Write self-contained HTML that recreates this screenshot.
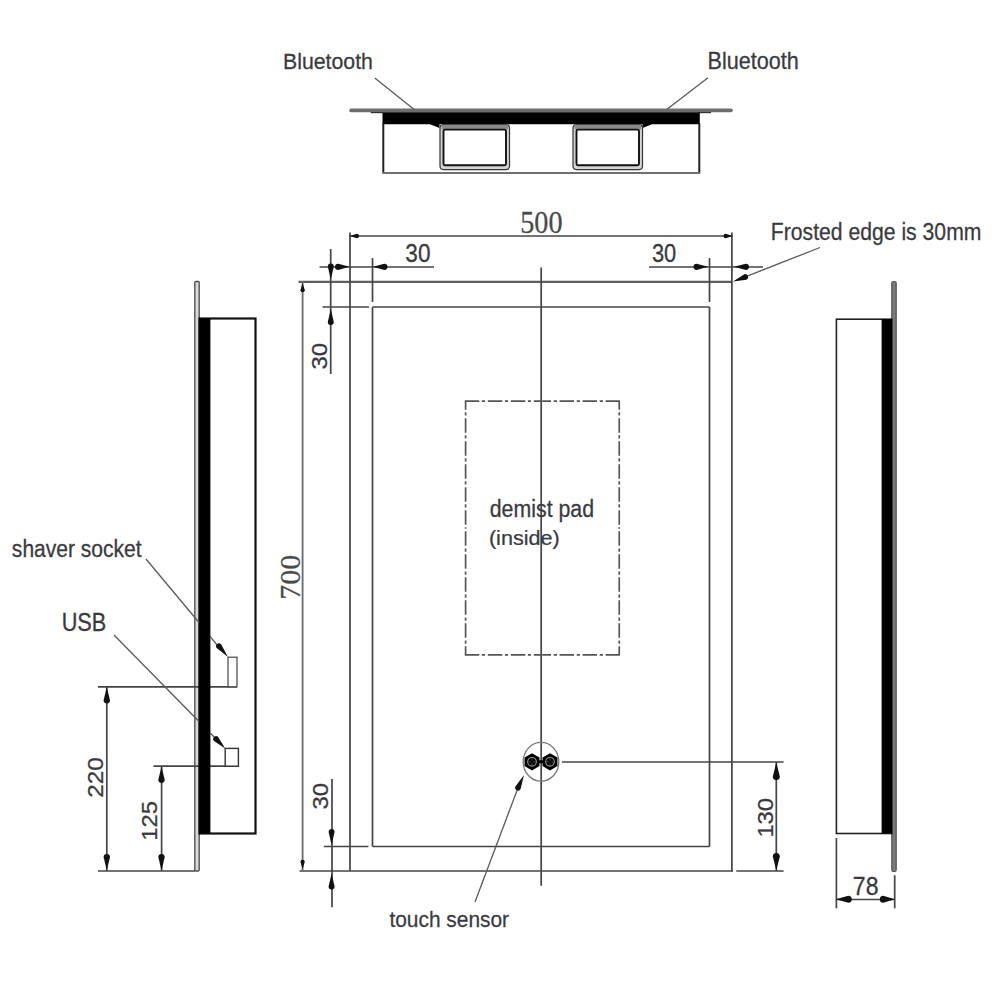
<!DOCTYPE html>
<html><head><meta charset="utf-8"><style>
html,body{margin:0;padding:0;background:#fff;}
svg{display:block;}
</style></head><body>
<svg width="1000" height="1000" viewBox="0 0 1000 1000">
<rect width="1000" height="1000" fill="#fff"/>
<line x1="351" y1="110.4" x2="731" y2="110.4" stroke="#6e6e6e" stroke-width="3.6" stroke-linecap="round"/>
<line x1="370.8" y1="112.6" x2="383" y2="112.6" stroke="#333" stroke-width="1.2" />
<line x1="699" y1="112.6" x2="711" y2="112.6" stroke="#333" stroke-width="1.2" />
<polygon points="382.50,112.20 699.80,112.20 699.80,124.20 652.00,124.20 642.50,128.00 642.50,124.20 439.50,124.20 439.50,128.00 430.00,124.20 382.50,124.20" fill="#000" stroke="none" stroke-width="0"/>
<line x1="383.3" y1="123" x2="383.3" y2="173" stroke="#222" stroke-width="2" />
<line x1="699.3" y1="123" x2="699.3" y2="173" stroke="#222" stroke-width="2" />
<line x1="382.5" y1="173" x2="700.2" y2="173" stroke="#707070" stroke-width="2.2" />
<rect x="440" y="124.6" width="69.5" height="45" rx="3.5" fill="#d4d4d4" stroke="#333" stroke-width="1.2"/>
<rect x="441.5" y="124.8" width="66.5" height="4.6" fill="#8a8a8a" stroke="none" stroke-width="0" />
<rect x="443.5" y="129.6" width="62.5" height="35.6" rx="1.5" fill="#fff" stroke="#111" stroke-width="1.9"/>
<rect x="573" y="124.6" width="69.5" height="45" rx="3.5" fill="#d4d4d4" stroke="#333" stroke-width="1.2"/>
<rect x="574.5" y="124.8" width="66.5" height="4.6" fill="#8a8a8a" stroke="none" stroke-width="0" />
<rect x="576.5" y="129.6" width="62.5" height="35.6" rx="1.5" fill="#fff" stroke="#111" stroke-width="1.9"/>
<line x1="374.8" y1="78" x2="414.8" y2="110" stroke="#5a5a5a" stroke-width="1.3" />
<line x1="708" y1="77.8" x2="667" y2="109.3" stroke="#5a5a5a" stroke-width="1.3" />
<line x1="298.5" y1="281.9" x2="732" y2="281.9" stroke="#5e5e5e" stroke-width="2.3" />
<line x1="299.5" y1="871" x2="733" y2="871" stroke="#444" stroke-width="1.7" />
<line x1="350" y1="232.5" x2="350" y2="871" stroke="#444" stroke-width="1.7" />
<line x1="731.9" y1="232.5" x2="731.9" y2="871.3" stroke="#444" stroke-width="1.7" />
<line x1="322.5" y1="307" x2="369" y2="307" stroke="#444" stroke-width="1.7" />
<line x1="372.5" y1="307" x2="709.5" y2="307" stroke="#444" stroke-width="1.7" />
<line x1="372.5" y1="307" x2="372.5" y2="846.5" stroke="#444" stroke-width="1.7" />
<line x1="709.5" y1="307" x2="709.5" y2="846.5" stroke="#444" stroke-width="1.7" />
<line x1="323.8" y1="846.5" x2="368.4" y2="846.5" stroke="#444" stroke-width="1.7" />
<line x1="372.5" y1="846.5" x2="709.5" y2="846.5" stroke="#444" stroke-width="1.7" />
<line x1="372.5" y1="258" x2="372.5" y2="302" stroke="#444" stroke-width="1.7" />
<line x1="709.5" y1="258" x2="709.5" y2="302" stroke="#444" stroke-width="1.7" />
<line x1="541.2" y1="267.5" x2="541.2" y2="885.7" stroke="#444" stroke-width="1.7" />
<line x1="349.5" y1="236" x2="732.5" y2="236" stroke="#444" stroke-width="1.7" />
<path d="M350.00,236.00 L356.81,233.81 A2.19,2.19 0 0 1 356.81,238.19 Z" fill="#111"/>
<path d="M732.50,236.00 L725.68,238.19 A2.19,2.19 0 0 1 725.68,233.81 Z" fill="#111"/>
<line x1="319.5" y1="267" x2="434" y2="267" stroke="#444" stroke-width="1.7" />
<path d="M349.50,266.80 L338.16,269.96 A3.16,3.16 0 0 1 338.16,263.64 Z" fill="#111"/>
<path d="M373.00,266.80 L384.34,263.64 A3.16,3.16 0 0 1 384.34,269.96 Z" fill="#111"/>
<line x1="649" y1="267" x2="763" y2="267" stroke="#444" stroke-width="1.7" />
<path d="M708.00,266.80 L696.66,269.96 A3.16,3.16 0 0 1 696.66,263.64 Z" fill="#111"/>
<path d="M734.00,266.80 L745.84,263.64 A3.16,3.16 0 0 1 745.84,269.96 Z" fill="#111"/>
<line x1="820" y1="247.5" x2="736" y2="280.5" stroke="#5a5a5a" stroke-width="1.3" />
<path d="M733.00,281.50 L744.33,274.28 A2.88,2.88 0 0 1 746.31,279.68 Z" fill="#111"/>
<line x1="302.6" y1="281" x2="302.6" y2="871" stroke="#6a6a6a" stroke-width="1.8" />
<path d="M302.60,283.00 L304.79,290.31 A2.19,2.19 0 0 1 300.42,290.31 Z" fill="#111"/>
<path d="M302.60,869.00 L300.42,861.68 A2.19,2.19 0 0 1 304.79,861.68 Z" fill="#111"/>
<line x1="330.7" y1="249" x2="330.7" y2="374" stroke="#444" stroke-width="1.7" />
<path d="M330.80,279.50 L327.81,266.49 A2.99,2.99 0 0 1 333.79,266.49 Z" fill="#111"/>
<path d="M330.80,309.00 L333.79,322.01 A2.99,2.99 0 0 1 327.81,322.01 Z" fill="#111"/>
<line x1="332" y1="779" x2="332" y2="907.3" stroke="#444" stroke-width="1.7" />
<path d="M331.60,845.00 L328.61,831.99 A2.99,2.99 0 0 1 334.59,831.99 Z" fill="#111"/>
<path d="M331.60,873.50 L334.59,886.51 A2.99,2.99 0 0 1 328.61,886.51 Z" fill="#111"/>
<line x1="562" y1="762" x2="783.6" y2="762" stroke="#444" stroke-width="1.7" />
<line x1="736.3" y1="871" x2="783.6" y2="871" stroke="#444" stroke-width="1.7" />
<line x1="776.3" y1="762" x2="776.3" y2="871" stroke="#444" stroke-width="1.7" />
<path d="M776.30,762.50 L779.80,776.50 A3.50,3.50 0 0 1 772.80,776.50 Z" fill="#111"/>
<path d="M776.30,870.50 L772.80,856.50 A3.50,3.50 0 0 1 779.80,856.50 Z" fill="#111"/>
<line x1="475" y1="901.9" x2="521" y2="780" stroke="#5a5a5a" stroke-width="1.3" />
<path d="M524.00,775.00 L520.59,789.00 A2.88,2.88 0 0 1 515.38,786.56 Z" fill="#111"/>
<line x1="464.8" y1="401.2" x2="542.425" y2="401.2" stroke="#555" stroke-width="1.7" stroke-dasharray="14.5 2.6 3.2 2.7" stroke-dashoffset="0"/>
<line x1="620.05" y1="401.2" x2="542.425" y2="401.2" stroke="#555" stroke-width="1.7" stroke-dasharray="14.5 2.6 3.2 2.7" stroke-dashoffset="0"/>
<line x1="464.8" y1="654.8" x2="542.425" y2="654.8" stroke="#555" stroke-width="1.7" stroke-dasharray="14.5 2.6 3.2 2.7" stroke-dashoffset="0"/>
<line x1="620.05" y1="654.8" x2="542.425" y2="654.8" stroke="#555" stroke-width="1.7" stroke-dasharray="14.5 2.6 3.2 2.7" stroke-dashoffset="0"/>
<line x1="465.6" y1="401.2" x2="465.6" y2="528.0" stroke="#555" stroke-width="1.7" stroke-dasharray="14.5 2.6 3.2 2.7" stroke-dashoffset="6"/>
<line x1="465.6" y1="654.8" x2="465.6" y2="528.0" stroke="#555" stroke-width="1.7" stroke-dasharray="14.5 2.6 3.2 2.7" stroke-dashoffset="6"/>
<line x1="619.25" y1="401.2" x2="619.25" y2="528.0" stroke="#555" stroke-width="1.7" stroke-dasharray="14.5 2.6 3.2 2.7" stroke-dashoffset="6"/>
<line x1="619.25" y1="654.8" x2="619.25" y2="528.0" stroke="#555" stroke-width="1.7" stroke-dasharray="14.5 2.6 3.2 2.7" stroke-dashoffset="6"/>
<ellipse cx="541" cy="761.8" rx="17.8" ry="19.4" fill="none" stroke="#777" stroke-width="1.3"/>
<polygon points="532.00,770.40 524.55,766.10 524.55,757.50 532.00,753.20 539.45,757.50 539.45,766.10" fill="#000" stroke="none" stroke-width="0"/>
<circle cx="532.0" cy="761.8" r="4.3" fill="none" stroke="#999" stroke-width="1.1"/>
<line x1="529.0" y1="761.8" x2="535.0" y2="761.8" stroke="#666" stroke-width="0.8"/>
<line x1="532.0" y1="758.8" x2="532.0" y2="764.8" stroke="#666" stroke-width="0.8"/>
<circle cx="532.0" cy="761.8" r="1.4" fill="#000"/>
<polygon points="550.00,770.40 542.55,766.10 542.55,757.50 550.00,753.20 557.45,757.50 557.45,766.10" fill="#000" stroke="none" stroke-width="0"/>
<circle cx="550.0" cy="761.8" r="4.3" fill="none" stroke="#999" stroke-width="1.1"/>
<line x1="547.0" y1="761.8" x2="553.0" y2="761.8" stroke="#666" stroke-width="0.8"/>
<line x1="550.0" y1="758.8" x2="550.0" y2="764.8" stroke="#666" stroke-width="0.8"/>
<circle cx="550.0" cy="761.8" r="1.4" fill="#000"/>
<rect x="538" y="760.3" width="6" height="3" fill="#000" stroke="none" stroke-width="0" />
<rect x="194.8" y="281.5" width="4.4" height="589.5" rx="1" fill="#d8d8d8" stroke="#4a4a4a" stroke-width="1.3"/>
<line x1="98" y1="686.8" x2="237" y2="686.8" stroke="#444" stroke-width="1.7" />
<line x1="153.5" y1="766.2" x2="238.4" y2="766.2" stroke="#444" stroke-width="1.7" />
<line x1="98" y1="871" x2="195" y2="871" stroke="#444" stroke-width="1.7" />
<rect x="199.5" y="318.5" width="56" height="515" fill="none" stroke="#111" stroke-width="2.2" />
<rect x="199.4" y="318.5" width="11" height="515" fill="#000" stroke="none" stroke-width="0" />
<rect x="228" y="657.2" width="9" height="29.6" fill="#fff" stroke="#444" stroke-width="1.2" />
<rect x="225.2" y="748.4" width="13.2" height="17.8" fill="#fff" stroke="#333" stroke-width="1.4" />
<line x1="146" y1="559" x2="199" y2="622.5" stroke="#5a5a5a" stroke-width="1.3" />
<line x1="210" y1="636.4" x2="220" y2="648.5" stroke="#5a5a5a" stroke-width="1.3" />
<path d="M228.00,657.00 L216.70,648.05 A2.88,2.88 0 0 1 221.10,644.34 Z" fill="#111"/>
<line x1="114" y1="635" x2="199" y2="721.5" stroke="#5a5a5a" stroke-width="1.3" />
<line x1="210" y1="732.8" x2="216" y2="739" stroke="#5a5a5a" stroke-width="1.3" />
<path d="M225.20,748.40 L213.98,741.01 A2.88,2.88 0 0 1 218.10,736.99 Z" fill="#111"/>
<line x1="106.8" y1="686.8" x2="106.8" y2="871" stroke="#444" stroke-width="1.7" />
<path d="M106.80,687.00 L109.96,700.34 A3.16,3.16 0 0 1 103.64,700.34 Z" fill="#111"/>
<path d="M106.80,870.50 L103.64,857.16 A3.16,3.16 0 0 1 109.96,857.16 Z" fill="#111"/>
<line x1="161.6" y1="766.2" x2="161.6" y2="871" stroke="#444" stroke-width="1.7" />
<path d="M161.50,766.50 L164.66,779.84 A3.16,3.16 0 0 1 158.34,779.84 Z" fill="#111"/>
<path d="M161.50,870.50 L158.34,857.16 A3.16,3.16 0 0 1 164.66,857.16 Z" fill="#111"/>
<rect x="891.8" y="281.5" width="4.4" height="590" rx="1.5" fill="#7a7a7a" stroke="#555" stroke-width="1.2"/>
<rect x="836.4" y="319.2" width="55.5" height="514.3" fill="#fff" stroke="#222" stroke-width="1.6" />
<rect x="881.6" y="319.2" width="10.4" height="514.3" fill="#000" stroke="none" stroke-width="0" />
<line x1="836.4" y1="838" x2="836.4" y2="908.3" stroke="#444" stroke-width="1.7" />
<line x1="894.7" y1="875.3" x2="894.7" y2="908.3" stroke="#444" stroke-width="1.7" />
<line x1="836.4" y1="899.5" x2="894.7" y2="899.5" stroke="#444" stroke-width="1.7" />
<path d="M835.80,899.30 L848.30,895.80 A3.50,3.50 0 0 1 848.30,902.80 Z" fill="#111"/>
<path d="M894.80,899.30 L883.30,902.80 A3.50,3.50 0 0 1 883.30,895.80 Z" fill="#111"/>
<text transform="matrix(0.21299 0.00000 0.00000 0.22703 282.99608 68.57297)" font-family="&quot;Liberation Sans&quot;, sans-serif" font-size="100" fill="#3a3a3e" stroke="#3a3a3e" stroke-width="1.2">Bluetooth</text>
<text transform="matrix(0.21618 0.00000 0.00000 0.23108 707.57059 68.56892)" font-family="&quot;Liberation Sans&quot;, sans-serif" font-size="100" fill="#3a3a3e" stroke="#3a3a3e" stroke-width="1.2">Bluetooth</text>
<text transform="matrix(0.28214 0.00000 0.00000 0.31343 520.20714 232.67313)" font-family="&quot;Liberation Serif&quot;, serif" font-size="100" fill="#4a4a4a" stroke="#4a4a4a" stroke-width="0.8">500</text>
<text transform="matrix(0.22573 0.00000 0.00000 0.25352 405.34709 262.49648)" font-family="&quot;Liberation Sans&quot;, sans-serif" font-size="100" fill="#3a3a3e" stroke="#3a3a3e" stroke-width="1.2">30</text>
<text transform="matrix(0.21845 0.00000 0.00000 0.25352 651.87621 262.49648)" font-family="&quot;Liberation Sans&quot;, sans-serif" font-size="100" fill="#3a3a3e" stroke="#3a3a3e" stroke-width="1.2">30</text>
<text transform="matrix(0.21173 0.00000 0.00000 0.23288 770.80612 240.00000)" font-family="&quot;Liberation Sans&quot;, sans-serif" font-size="100" fill="#3a3a3e" stroke="#3a3a3e" stroke-width="1.2">Frosted edge is 30mm</text>
<text transform="matrix(0.00000 -0.23883 0.22817 0.00000 327.27183 369.55534)" font-family="&quot;Liberation Sans&quot;, sans-serif" font-size="100" fill="#3a3a3e" stroke="#3a3a3e" stroke-width="1.2">30</text>
<text transform="matrix(0.00000 -0.29928 0.29254 0.00000 300.01493 599.69496)" font-family="&quot;Liberation Serif&quot;, serif" font-size="100" fill="#4a4a4a" stroke="#4a4a4a" stroke-width="0.8">700</text>
<text transform="matrix(0.21336 0.00000 0.00000 0.23014 489.74656 517.00000)" font-family="&quot;Liberation Sans&quot;, sans-serif" font-size="100" fill="#3a3a3e" stroke="#3a3a3e" stroke-width="1.2">demist pad</text>
<text transform="matrix(0.21646 0.00000 0.00000 0.20426 488.90127 545.11064)" font-family="&quot;Liberation Sans&quot;, sans-serif" font-size="100" fill="#3a3a3e" stroke="#3a3a3e" stroke-width="1.2">(inside)</text>
<text transform="matrix(0.00000 -0.23883 0.22535 0.00000 327.97465 809.55534)" font-family="&quot;Liberation Sans&quot;, sans-serif" font-size="100" fill="#3a3a3e" stroke="#3a3a3e" stroke-width="1.2">30</text>
<text transform="matrix(0.20914 0.00000 0.00000 0.22297 389.38172 926.67703)" font-family="&quot;Liberation Sans&quot;, sans-serif" font-size="100" fill="#3a3a3e" stroke="#3a3a3e" stroke-width="1.2">touch sensor</text>
<text transform="matrix(0.00000 -0.23806 0.22817 0.00000 773.07183 837.60452)" font-family="&quot;Liberation Sans&quot;, sans-serif" font-size="100" fill="#3a3a3e" stroke="#3a3a3e" stroke-width="1.2">130</text>
<text transform="matrix(0.23039 0.00000 0.00000 0.25704 852.84804 894.99296)" font-family="&quot;Liberation Sans&quot;, sans-serif" font-size="100" fill="#3a3a3e" stroke="#3a3a3e" stroke-width="1.2">78</text>
<text transform="matrix(0.21028 0.00000 0.00000 0.23243 11.86917 557.46757)" font-family="&quot;Liberation Sans&quot;, sans-serif" font-size="100" fill="#3a3a3e" stroke="#3a3a3e" stroke-width="1.2">shaver socket</text>
<text transform="matrix(0.21719 0.00000 0.00000 0.25352 61.66250 630.84648)" font-family="&quot;Liberation Sans&quot;, sans-serif" font-size="100" fill="#3a3a3e" stroke="#3a3a3e" stroke-width="1.2">USB</text>
<text transform="matrix(0.00000 -0.24367 0.22113 0.00000 103.07887 797.71835)" font-family="&quot;Liberation Sans&quot;, sans-serif" font-size="100" fill="#3a3a3e" stroke="#3a3a3e" stroke-width="1.2">220</text>
<text transform="matrix(0.00000 -0.23871 0.22676 0.00000 157.17324 840.70968)" font-family="&quot;Liberation Sans&quot;, sans-serif" font-size="100" fill="#3a3a3e" stroke="#3a3a3e" stroke-width="1.2">125</text>
</svg></body></html>
